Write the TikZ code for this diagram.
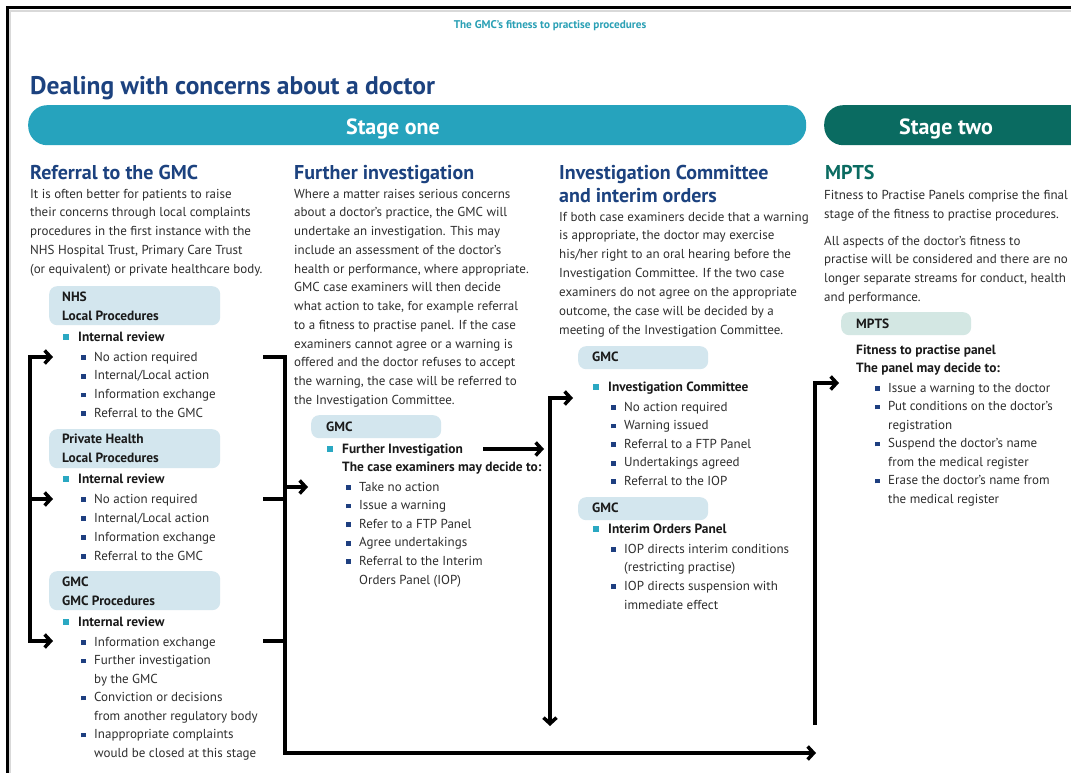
\documentclass[tikz,border=0pt]{standalone}
\usepackage{fontspec}
\setmainfont{PT Sans}
\usetikzlibrary{arrows.meta}

\definecolor{navy}{HTML}{1C427F}
\definecolor{bodytext}{HTML}{2E2E2E}
\definecolor{labtext}{HTML}{1A1A1A}
\definecolor{tealhdr}{HTML}{2AA0B5}
\definecolor{stageone}{HTML}{26A3BD}
\definecolor{stagetwo}{HTML}{0A6B61}
\definecolor{boxblue}{HTML}{D3E6EE}
\definecolor{boxgreen}{HTML}{D3E7E3}
\definecolor{tealbul}{HTML}{2AA8C2}
\definecolor{navybul}{HTML}{1E3F80}

% list markers hanging to the left of the text
\newcommand\navyb{\llap{\textcolor{navybul}{\rule[1.2pt]{4.8pt}{4.8pt}}\hspace{8.5pt}}}
\newcommand\tealb{\llap{\textcolor{tealbul}{\rule[0.6pt]{6pt}{6pt}}\hspace{9.5pt}}}
% one node per printed line: style, name prefix, x, first baseline, line step, lines
\newcommand\placelines[6]{%
  \foreach \t [count=\i from 0] in {#6}{\node[#1] (#2\i) at (#3,{#4+\i*#5}) {\t};}}

\begin{document}
\begin{tikzpicture}[x=1pt,y=-1pt,
  body/.style={anchor=base west, inner sep=0pt, font=\fontsize{13}{15}\selectfont, text=bodytext},
  lab/.style={anchor=base west, inner sep=0pt, font=\fontsize{13.4}{15}\selectfont\bfseries, text=labtext},
  colhead/.style={anchor=base west, inner sep=0pt, font=\fontsize{20}{24}\selectfont\bfseries, text=navy},
  panel/.style={fill=boxblue, rounded corners=8pt, anchor=north west, inner sep=0pt},
  wide/.style={panel, minimum width=171pt, minimum height=39pt},
  slim/.style={panel, minimum width=130pt, minimum height=23pt},
  stagebar/.style={rounded corners=19pt, anchor=north west, inner sep=0pt, minimum height=40pt},
  stagetext/.style={anchor=base, inner sep=0pt, font=\fontsize{22}{26}\selectfont\bfseries, text=white},
  flow/.style={line width=3.5pt, line join=miter},
  tip/.style={flow, -{Straight Barb[length=6pt,width=13pt]}},
  twotip/.style={flow, {Straight Barb[length=6pt,width=13pt]}-{Straight Barb[length=6pt,width=13pt]}},
]
\useasboundingbox (0,0) rectangle (1071,773);
\clip (0,0) rectangle (1071,773);
\fill[white] (0,0) rectangle (1071,773);

% page frame
\draw[line width=2pt, black!15] (10,790) -- (10,11) -- (1090,11);
\draw[line width=3pt] (7,790) -- (7,8) -- (1090,8);

% header and title
\node[anchor=base, inner sep=0pt, font=\fontsize{11.2}{13}\selectfont\bfseries, text=tealhdr] (hdr) at (550,29) {The GMC’s fitness to practise procedures};
\node[anchor=base west, inner sep=0pt, font=\fontsize{25.5}{30}\selectfont\bfseries, text=navy] (title) at (30,95) {Dealing with concerns about a doctor};

% stage bars
\node[stagebar, fill=stageone, minimum width=778pt] (s1bar) at (28,105) {};
\node[stagetext] (s1txt) at (393,135) {Stage one};
\node[stagebar, fill=stagetwo, minimum width=290pt] (s2bar) at (824,105) {};
\node[stagetext] (s2txt) at (946,135) {Stage two};

% ---------- column 1 ----------
\node[colhead] (c1h) at (30,179) {Referral to the GMC};
\placelines{body}{ca}{30}{198}{18.75}{{It is often better for patients to raise},{their concerns through local complaints},{procedures in the first instance with the},{NHS Hospital Trust, Primary Care Trust},{(or equivalent) or private healthcare body.}}

\node[wide] (nhsbox) at (49,286) {};
\node[lab] (nhsA) at (62,301) {NHS};
\node[lab] (nhsB) at (62,320) {Local Procedures};
\node[lab] (nhsir) at (78,341) {\tealb Internal review};
\placelines{body}{nhsi}{94}{361}{18.75}{{\navyb No action required},{\navyb Internal/Local action},{\navyb Information exchange},{\navyb Referral to the GMC}}

\node[wide] (phbox) at (49,429) {};
\node[lab] (phA) at (62,443) {Private Health};
\node[lab] (phB) at (62,462) {Local Procedures};
\node[lab] (phir) at (78,483) {\tealb Internal review};
\placelines{body}{phi}{94}{503}{19}{{\navyb No action required},{\navyb Internal/Local action},{\navyb Information exchange},{\navyb Referral to the GMC}}

\node[wide] (gmbox) at (49,571) {};
\node[lab] (gmA) at (62,586) {GMC};
\node[lab] (gmB) at (62,605) {GMC Procedures};
\node[lab] (gmir) at (78,626) {\tealb Internal review};
\placelines{body}{gmi}{94}{646}{18.5}{{\navyb Information exchange},{\navyb Further investigation},{by the GMC},{\navyb Conviction or decisions},{from another regulatory body},{\navyb Inappropriate complaints},{would be closed at this stage}}

% ---------- column 2 ----------
\node[colhead] (c2h) at (294,179) {Further investigation};
\placelines{body}{cb}{294}{198}{18.75}{{Where a matter raises serious concerns},{about a doctor’s practice, the GMC will},{undertake an investigation. This may},{include an assessment of the doctor’s},{health or performance, where appropriate.},{GMC case examiners will then decide},{what action to take, for example referral},{to a fitness to practise panel. If the case},{examiners cannot agree or a warning is},{offered and the doctor refuses to accept},{the warning, the case will be referred to},{the Investigation Committee.}}

\node[slim] (fibox) at (311,415) {};
\node[lab] (fiA) at (326,431) {GMC};
\node[lab] (fi) at (342,453) {\tealb Further Investigation};
\node[lab] (fiB) at (342,471) {The case examiners may decide to:};
\placelines{body}{fii}{359}{491}{18.6}{{\navyb Take no action},{\navyb Issue a warning},{\navyb Refer to a FTP Panel},{\navyb Agree undertakings},{\navyb Referral to the Interim},{Orders Panel (IOP)}}

% ---------- column 3 ----------
\node[colhead] (c3h) at (559,179) {Investigation Committee};
\node[colhead] (c3h2) at (559,202) {and interim orders};
\placelines{body}{cc}{559}{221}{18.9}{{If both case examiners decide that a warning},{is appropriate, the doctor may exercise},{his/her right to an oral hearing before the},{Investigation Committee. If the two case},{examiners do not agree on the appropriate},{outcome, the case will be decided by a},{meeting of the Investigation Committee.}}

\node[slim] (icbox) at (578,346) {};
\node[lab] (icA) at (592,361) {GMC};
\node[lab] (ic) at (608,391) {\tealb Investigation Committee};
\placelines{body}{ici}{624}{411}{18.6}{{\navyb No action required},{\navyb Warning issued},{\navyb Referral to a FTP Panel},{\navyb Undertakings agreed},{\navyb Referral to the IOP}}

\node[slim] (iobox) at (578,497) {};
\node[lab] (ioA) at (592,512) {GMC};
\node[lab] (io) at (608,533) {\tealb Interim Orders Panel};
\placelines{body}{ioi}{624}{553}{18.7}{{\navyb IOP directs interim conditions},{(restricting practise)},{\navyb IOP directs suspension with},{immediate effect}}

% ---------- column 4 ----------
\node[colhead, text=stagetwo] (c4h) at (825,179) {MPTS};
\placelines{body}{cd}{824}{199}{19}{{Fitness to Practise Panels comprise the final},{stage of the fitness to practise procedures.}}
\placelines{body}{ce}{824}{245}{18.7}{{All aspects of the doctor’s fitness to},{practise will be considered and there are no},{longer separate streams for conduct, health},{and performance.}}

\node[slim, fill=boxgreen] (mpbox) at (841,312) {};
\node[lab] (mpA) at (856,328) {MPTS};
\node[lab] (mpB) at (856,354) {Fitness to practise panel};
\node[lab] (mpC) at (856,372) {The panel may decide to:};
\placelines{body}{mpi}{888}{392}{18.5}{{\navyb Issue a warning to the doctor},{\navyb Put conditions on the doctor’s},{registration},{\navyb Suspend the doctor’s name},{from the medical register},{\navyb Erase the doctor’s name from},{the medical register}}

% ---------- connectors ----------
% into the three local/GMC procedures
\coordinate (L1) at (30,357);
\coordinate (L2) at (30,499);
\coordinate (L3) at (30,641);
\coordinate (T1) at (53,357);
\coordinate (T2) at (53,499);
\coordinate (T3) at (53,641);
\draw[tip] (L3) |- (T1);
\draw[tip] (L1) |- (T3);
\draw[tip] (L2) -- (T2);

% out of the three procedures
\coordinate (R1) at (263,357);
\coordinate (R2) at (263,499);
\coordinate (R3) at (263,641);
\coordinate (R2e) at (285,499);
\coordinate (R3e) at (285,641);
\coordinate (Rbot) at (285,753);
\coordinate (Rend) at (816,753);
\coordinate (Ra) at (285,487);
\coordinate (Rat) at (308,487);
\draw[tip] (R1) -| (Rbot) -- (Rend);
\draw[flow] (R2) -- (R2e);
\draw[flow] (R3) -- (R3e);
\draw[tip] (Ra) -- (Rat);

% further investigation to the investigation committee
\coordinate (FIa) at (483,449);
\coordinate (FIb) at (544,449);
\draw[tip] (FIa) -- (FIb);

% investigation committee bracket
\coordinate (ICt) at (573,398);
\coordinate (ICb) at (550,726);
\draw[twotip] (ICt) -| (ICb);

% into the fitness to practise panel
\coordinate (MPb) at (815,725);
\coordinate (MPt) at (839,383);
\draw[tip] (MPb) |- (MPt);
\end{tikzpicture}
\end{document}
